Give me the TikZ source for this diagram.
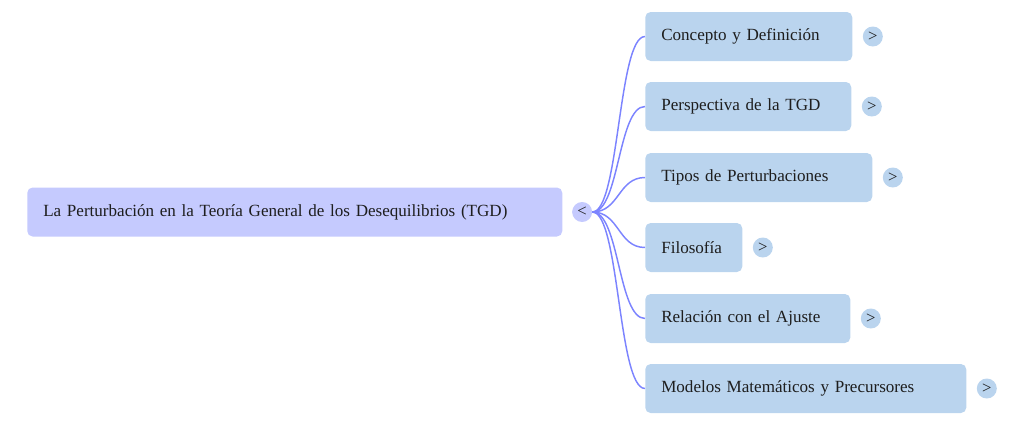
\documentclass[tikz,border=0pt]{standalone}
\usepackage{fontspec}
\setmainfont{Liberation Serif}
\usepackage{tikz}
\usepackage{xcolor}
\usetikzlibrary{calc,positioning,shapes}
\definecolor{rootfill}{RGB}{197,202,254}
\definecolor{topicfill}{RGB}{186,212,238}
\definecolor{linkblue}{RGB}{124,132,255}
\definecolor{inktext}{RGB}{30,30,30}
\tikzset{%
	root/.style   = {fill=rootfill, rounded corners=4pt, minimum height=36.75pt, inner xsep=12pt, align=left, anchor=west, text=inktext, font=\fontsize{12.8pt}{15pt}\selectfont},
	topic/.style  = {fill=topicfill, rounded corners=4pt, minimum height=36.75pt, inner xsep=12pt, align=left, anchor=west, text=inktext, font=\fontsize{12.8pt}{15pt}\selectfont},
	togg/.style   = {circle, minimum size=15pt, inner sep=0pt, text=inktext, font=\fontsize{12.5pt}{13pt}\selectfont},
	link/.style   = {draw=linkblue, line width=1.1pt},
}

\begin{document}
\begin{tikzpicture}[x=0.75pt,y=-0.75pt]
		\useasboundingbox (0,0) rectangle (1023,425);
		% central topic and its toggle
		\node[root, text width=377.25pt] (root) at (27,212) {La Perturbación en la Teoría General de los Desequilibrios (TGD)};
		\node[togg, fill=rootfill, right=7pt of root] (tog) {<};
		% branches
		\node[topic, text width=131.25pt] (c1) at (645,36.5) {Concepto y Definición};
		\node[topic, text width=130.5pt] (c2) at (645,106.5) {Perspectiva de la TGD};
		\node[topic, text width=146.25pt] (c3) at (645,177.5) {Tipos de Perturbaciones};
		\node[topic, text width=48.75pt] (c4) at (645,247.5) {Filosofía};
		\node[topic, text width=129.75pt] (c5) at (645,318.5) {Relación con el Ajuste};
		\node[topic, text width=216.75pt] (c6) at (645,388.5) {Modelos Matemáticos y Precursores};
		% expand buttons
		\foreach \c in {c1,c2,c3,c4,c5,c6}
			\node[togg, fill=topicfill, right=7.5pt of \c] (t\c) {>};
		% curved links
		\foreach \c in {c1,c2,c3,c4,c5,c6}
			\draw[link] (tog.east) .. controls +(27,0) and +(-27,0) .. (\c.west);
		\end{tikzpicture}
\end{document}
